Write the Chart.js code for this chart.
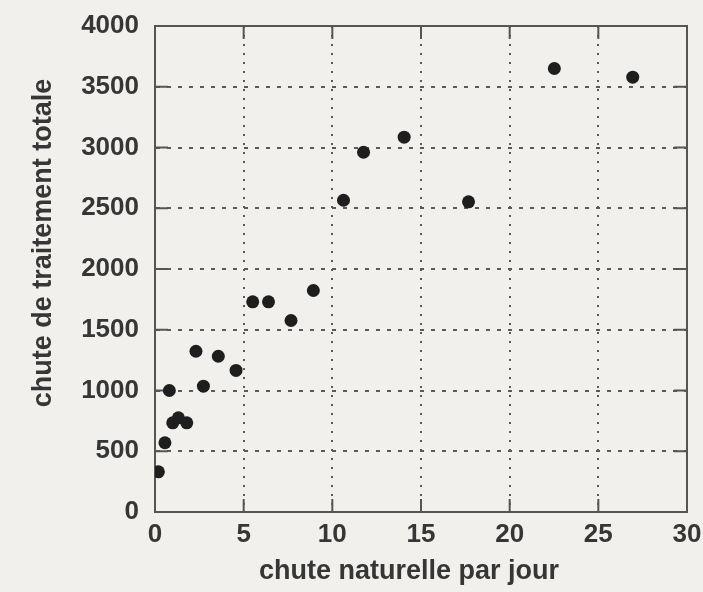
<!DOCTYPE html>
<html>
<head>
<meta charset="utf-8">
<script src="https://cdn.jsdelivr.net/npm/chart.js@4.4.1/dist/chart.umd.min.js"></script>
<style>
  html, body { margin: 0; padding: 0; background: #f1f0ec; }
  #chart { display: block; }
</style>
</head>
<body>
<canvas id="chart" width="703" height="592"></canvas>
<script>
// chute naturelle par jour vs chute de traitement totale

const xValues = [0.19, 0.56, 0.81, 1.0, 1.32, 1.79, 2.31, 2.73, 3.57, 4.57,
                 5.51, 6.40, 7.67, 8.93, 10.63, 11.76, 14.05, 17.68, 22.52, 26.94];
const yValues = [331, 570, 1000, 734, 775, 734, 1323, 1036, 1282, 1165,
                 1730, 1730, 1576, 1823, 2566, 2961, 3085, 2553, 3650, 3579];

const xTitle = 'chute naturelle par jour';
const yTitle = 'chute de traitement totale';
const xMin = 0, xMax = 30, xStep = 5;
const yMin = 0, yMax = 4000, yStep = 500;

const textColor = '#363636';
const axisColor = '#555';
const gridColor = '#5a5a5a';
const fontFamily = '"Liberation Sans", Arial, sans-serif';

const points = xValues.map((x, i) => ({ x: x, y: yValues[i] }));

// background, frame on top/right, inner tick marks and the two axis titles
const framePlugin = {
    id: 'frame',
    beforeDraw(chart) {
        const ctx = chart.ctx;
        ctx.save();
        ctx.fillStyle = '#f1f0ec';
        ctx.fillRect(0, 0, chart.width, chart.height);
        ctx.restore();
    },
    beforeDatasetsDraw(chart) {
        const { ctx, chartArea: a, scales } = chart;
        ctx.save();
        ctx.strokeStyle = axisColor;
        ctx.lineWidth = 2;
        ctx.strokeRect(a.left, a.top, a.right - a.left, a.bottom - a.top);
        const len = 13;
        ctx.beginPath();
        scales.x.ticks.forEach(t => {
            if (t.value === xMin || t.value === xMax) return;
            const px = scales.x.getPixelForValue(t.value);
            ctx.moveTo(px, a.top); ctx.lineTo(px, a.top + len);
            ctx.moveTo(px, a.bottom); ctx.lineTo(px, a.bottom - len);
        });
        scales.y.ticks.forEach(t => {
            if (t.value === yMin || t.value === yMax) return;
            const py = scales.y.getPixelForValue(t.value);
            ctx.moveTo(a.right, py); ctx.lineTo(a.right - len, py);
            ctx.moveTo(a.left, py); ctx.lineTo(a.left + len, py);
        });
        ctx.stroke();
        ctx.restore();
    },
    afterDraw(chart) {
        const ctx = chart.ctx;
        ctx.save();
        ctx.fillStyle = textColor;
        ctx.font = 'bold 27px ' + fontFamily;
        ctx.textAlign = 'center';
        ctx.textBaseline = 'middle';
        ctx.fillText(xTitle, 409, 572);
        ctx.translate(44, 243);
        ctx.rotate(-Math.PI / 2);
        ctx.fillText(yTitle, 0, 0);
        ctx.restore();
    }
};

const hideEdges = (lo, hi) => c =>
    (c.tick && (c.tick.value === lo || c.tick.value === hi)) ? 'rgba(0,0,0,0)' : gridColor;

new Chart(document.getElementById('chart'), {
    type: 'scatter',
    data: {
        datasets: [{
            data: points,
            backgroundColor: '#1e1e1e',
            borderWidth: 0,
            pointRadius: 6.5,
            pointHoverRadius: 6.5
        }]
    },
    options: {
        responsive: false,
        animation: false,
        devicePixelRatio: 1,
        layout: { padding: { left: 0, right: 16, top: 26, bottom: 0 } },
        plugins: { legend: { display: false }, tooltip: { enabled: false } },
        scales: {
            x: {
                type: 'linear', min: xMin, max: xMax,
                afterFit: s => { s.height = 80; s.paddingLeft = 0; s.paddingRight = 0; },
                ticks: {
                    stepSize: xStep, padding: 7, color: textColor,
                    callback: v => String(v),
                    font: { family: fontFamily, size: 26, weight: 'bold' }
                },
                grid: { color: hideEdges(xMin, xMax), lineWidth: 2, drawTicks: false },
                border: { display: true, color: axisColor, width: 2, dash: [2, 7] }
            },
            y: {
                type: 'linear', min: yMin, max: yMax,
                afterFit: s => { s.width = 155; s.paddingTop = 0; s.paddingBottom = 0; },
                ticks: {
                    stepSize: yStep, padding: 16, color: textColor,
                    callback: v => String(v),
                    font: { family: fontFamily, size: 26, weight: 'bold' }
                },
                grid: { color: hideEdges(yMin, yMax), lineWidth: 2, drawTicks: false },
                border: { display: true, color: axisColor, width: 2, dash: [4, 7] }
            }
        }
    },
    plugins: [framePlugin]
});
</script>
</body>
</html>
